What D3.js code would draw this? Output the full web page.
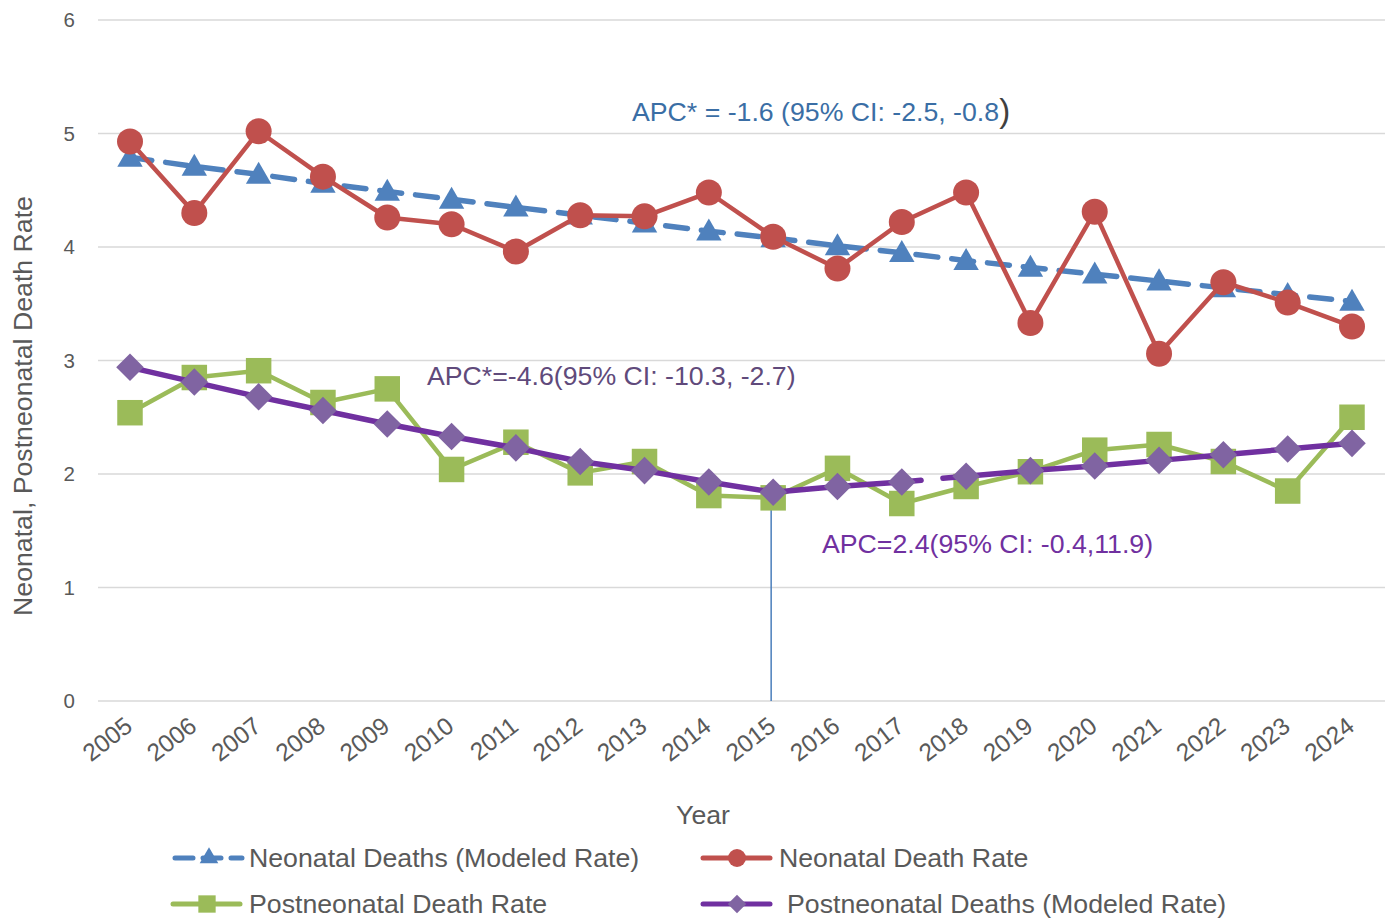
<!DOCTYPE html>
<html>
<head>
<meta charset="utf-8">
<script src="https://cdn.jsdelivr.net/npm/d3@7"></script>
<style>
  body { margin: 0; background: #fff; }
  svg { font-family: "Liberation Sans", Arial, sans-serif; }
</style>
</head>
<body>
<svg id="chart" width="1392" height="922"></svg>
<script>
// ---- data ----
const years = d3.range(2005, 2025);
const yTicks = [0, 1, 2, 3, 4, 5, 6];
const neoModeled = [4.79, 4.71, 4.64, 4.56, 4.49, 4.42, 4.35, 4.28, 4.21, 4.14,
                    4.08, 4.01, 3.95, 3.88, 3.82, 3.76, 3.70, 3.64, 3.58, 3.52];
const neoRate = [4.93, 4.30, 5.02, 4.62, 4.26, 4.20, 3.96, 4.28, 4.27, 4.48,
                 4.09, 3.81, 4.22, 4.48, 3.33, 4.31, 3.06, 3.69, 3.51, 3.30];
const postRate = [2.54, 2.85, 2.91, 2.63, 2.75, 2.04, 2.28, 2.01, 2.11, 1.81,
                  1.79, 2.05, 1.74, 1.89, 2.02, 2.21, 2.26, 2.11, 1.85, 2.50];
const postModeled = [2.94, 2.81, 2.68, 2.56, 2.44, 2.33, 2.23, 2.11, 2.03, 1.93,
                     1.84, 1.89, 1.93, 1.98, 2.03, 2.07, 2.12, 2.17, 2.22, 2.27];
const joinpointYear = 2015;

const seriesNames = ["Neonatal Deaths (Modeled Rate)", "Neonatal Death Rate",
                     "Postneonatal Death Rate", "Postneonatal Deaths (Modeled Rate)"];

const svg = d3.select("#chart");
const textGray = "#595959";
const bigFont = 26.7;

// plot area
const plotL = 98, plotR = 1385, plotT = 20, plotB = 701;
const x = d3.scalePoint().domain(years).range([130, 1352]);
const y = d3.scaleLinear().domain([0, 6]).range([plotB, plotT]);

// gridlines
svg.append("g").selectAll("line")
    .data(yTicks)
    .join("line")
    .attr("x1", plotL).attr("x2", plotR)
    .attr("y1", d => y(d)).attr("y2", d => y(d))
    .attr("stroke", "#d9d9d9").attr("stroke-width", 1.5);

// y tick labels
svg.append("g").selectAll("text")
    .data(yTicks)
    .join("text")
    .attr("x", 75).attr("y", d => y(d) + 7)
    .attr("text-anchor", "end")
    .attr("font-size", 20.5).attr("fill", textGray)
    .text(d => d);

// x tick labels
svg.append("g").selectAll("text")
    .data(years)
    .join("text")
    .attr("transform", d => `translate(${x(d) + 4},${plotB + 28}) rotate(-38)`)
    .attr("text-anchor", "end")
    .attr("font-size", 24.5).attr("fill", textGray)
    .text(d => d);

// axis titles
svg.append("text")
    .attr("transform", `translate(32,406) rotate(-90)`)
    .attr("text-anchor", "middle")
    .attr("font-size", bigFont).attr("fill", textGray)
    .text("Neonatal, Postneonatal Death Rate");
svg.append("text")
    .attr("x", 703).attr("y", 824)
    .attr("text-anchor", "middle")
    .attr("font-size", bigFont).attr("fill", textGray)
    .text("Year");

// joinpoint marker line
svg.append("line")
    .attr("x1", x(joinpointYear) - 2).attr("x2", x(joinpointYear) - 2)
    .attr("y1", y(postModeled[years.indexOf(joinpointYear)])).attr("y2", plotB)
    .attr("stroke", "#4a7ebb").attr("stroke-width", 1.5);

const line = d3.line().x(d => x(d.year)).y(d => y(d.v));
const pts = arr => arr.map((v, i) => ({year: years[i], v}));

// marker shapes
const sym = {
    tri: d3.symbol().type(d3.symbolTriangle).size(280),
    sq: d3.symbol().type(d3.symbolSquare).size(650),
    dia: d3.symbol().type(d3.symbolSquare).size(380)
};

function drawMarkers(g, data, kind, color) {
    if (kind === "circle") {
        g.selectAll("circle").data(data).join("circle")
            .attr("cx", d => x(d.year)).attr("cy", d => y(d.v))
            .attr("r", 13).attr("fill", color);
    } else {
        g.selectAll("path.m").data(data).join("path").attr("class", "m")
            .attr("d", kind === "tri" ? sym.tri : kind === "sq" ? sym.sq : sym.dia)
            .attr("transform", d => `translate(${x(d.year)},${y(d.v) + (kind === "tri" ? 2 : 0)})` +
                  (kind === "dia" ? " rotate(45)" : ""))
            .attr("fill", color);
    }
}

// Neonatal modeled (dashed blue)
const gBlue = svg.append("g");
gBlue.append("path").datum(pts(neoModeled))
    .attr("d", line).attr("fill", "none")
    .attr("stroke", "#4f81bd").attr("stroke-width", 5.5)
    .attr("stroke-dasharray", "22,14").attr("stroke-linecap", "round");
drawMarkers(gBlue, pts(neoModeled), "tri", "#4f81bd");

// Neonatal rate (red)
const gRed = svg.append("g");
gRed.append("path").datum(pts(neoRate))
    .attr("d", line).attr("fill", "none")
    .attr("stroke", "#c0504d").attr("stroke-width", 4.5).attr("stroke-linejoin", "round");
drawMarkers(gRed, pts(neoRate), "circle", "#c0504d");

// Postneonatal rate (green)
const gGreen = svg.append("g");
gGreen.append("path").datum(pts(postRate))
    .attr("d", line).attr("fill", "none")
    .attr("stroke", "#9bbb59").attr("stroke-width", 4.5).attr("stroke-linejoin", "round");
drawMarkers(gGreen, pts(postRate), "sq", "#9bbb59");

// Postneonatal modeled (purple), with the small break between 2017 and 2018
const gPurple = svg.append("g");
const pm = pts(postModeled);
const breakAt = years.indexOf(2017);
gPurple.selectAll("path.seg")
    .data(d3.pairs(pm))
    .join("path").attr("class", "seg")
    .attr("d", d => line(d))
    .attr("fill", "none")
    .attr("stroke", "#7030a0").attr("stroke-width", 5.5).attr("stroke-linecap", "round")
    .each(function (d, i) {
        if (i === breakAt) {
            const L = this.getTotalLength();
            d3.select(this).attr("stroke-dasharray", `${L * 0.3},${L * 0.34},${L}`);
        }
    });
drawMarkers(gPurple, pm, "dia", "#8064a2");

// annotations
svg.append("text")
    .attr("x", 632).attr("y", 121)
    .attr("font-size", bigFont).attr("fill", "#3a6ea5")
    .text("APC* = -1.6 (95% CI: -2.5, -0.8")
    .append("tspan").attr("font-size", 33).attr("fill", "#404040").attr("dy", 1).text(")");
svg.append("text")
    .attr("x", 427).attr("y", 385)
    .attr("font-size", bigFont).attr("fill", "#604a7b")
    .text("APC*=-4.6(95% CI: -10.3, -2.7)");
svg.append("text")
    .attr("x", 822).attr("y", 553)
    .attr("font-size", bigFont).attr("fill", "#7030a0")
    .text("APC=2.4(95% CI: -0.4,11.9)");

// legend
const legendItems = [
    {name: seriesNames[0], color: "#4f81bd", mColor: "#4f81bd", kind: "tri", dash: true, lx: 172, ly: 858, tx: 249},
    {name: seriesNames[1], color: "#c0504d", mColor: "#c0504d", kind: "circle", lx: 700, ly: 858, tx: 779},
    {name: seriesNames[2], color: "#9bbb59", mColor: "#9bbb59", kind: "sq", lx: 170, ly: 904, tx: 249},
    {name: seriesNames[3], color: "#7030a0", mColor: "#8064a2", kind: "dia", lx: 700, ly: 904, tx: 787}
];
const lg = svg.append("g").selectAll("g").data(legendItems).join("g");
lg.append("line")
    .attr("x1", d => d.lx + 3).attr("x2", d => d.lx + 70)
    .attr("y1", d => d.ly).attr("y2", d => d.ly)
    .attr("stroke", d => d.color).attr("stroke-width", 5).attr("stroke-linecap", "round")
    .attr("stroke-dasharray", d => d.dash ? "18,10" : null);
lg.each(function (d) {
    const g = d3.select(this);
    const cx = d.lx + 37;
    if (d.kind === "circle") {
        g.append("circle").attr("cx", cx).attr("cy", d.ly).attr("r", 9).attr("fill", d.mColor);
    } else {
        const s = d.kind === "tri" ? d3.symbol().type(d3.symbolTriangle).size(150)
                : d.kind === "sq" ? d3.symbol().type(d3.symbolSquare).size(300)
                : d3.symbol().type(d3.symbolSquare).size(170);
        g.append("path").attr("d", s)
            .attr("transform", `translate(${cx},${d.ly})` + (d.kind === "dia" ? " rotate(45)" : ""))
            .attr("fill", d.mColor);
    }
});
lg.append("text")
    .attr("x", d => d.tx).attr("y", d => d.ly + 9)
    .attr("font-size", bigFont).attr("fill", textGray)
    .text(d => d.name);
</script>
</body>
</html>
